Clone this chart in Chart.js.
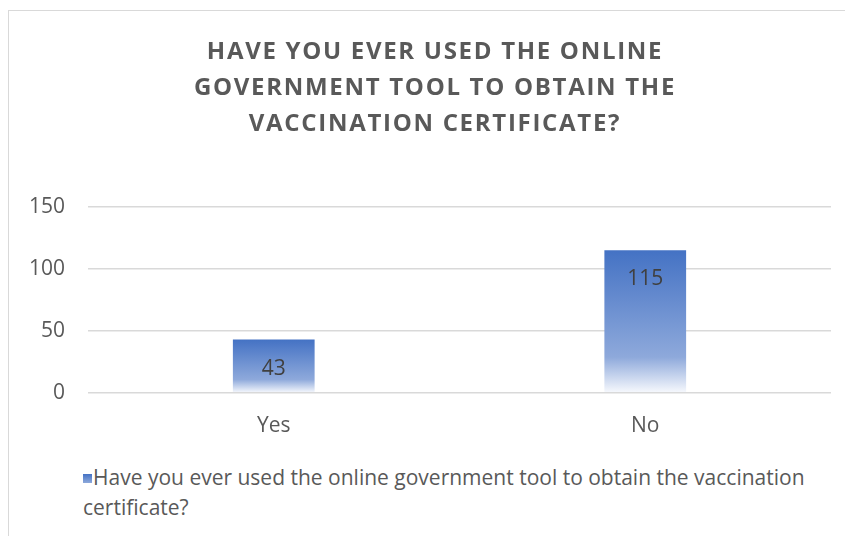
<!DOCTYPE html>
<html>
<head>
<meta charset="utf-8">
<script src="https://cdn.jsdelivr.net/npm/chart.js@4.4.0/dist/chart.umd.min.js"></script>
<style>
  body { margin: 0; background: #fff; width: 845px; height: 536px; overflow: hidden; position: relative; }
  #frame { position: absolute; left: 8px; top: 10px; width: 900px; height: 600px; border: 1px solid #d9d9d9; }
  #wrap { position: absolute; left: 8px; top: 10px; width: 837px; height: 450px; }
  #title { position: absolute; left: 0; top: 32px; width: 870px; text-align: center; font-family: "Open Sans", sans-serif;
           font-weight: bold; font-size: 24px; line-height: 36px; letter-spacing: 1.7px; color: #595959; }
  #legend { position: absolute; left: 83px; top: 462px; width: 730px; font-family: "Open Sans", sans-serif;
            font-size: 21px; line-height: 30px; color: #595959; }
  #legend .box { display: inline-block; width: 9px; height: 9px; margin-right: 1px; vertical-align: 2px;
                 background: linear-gradient(#4472C4, #8EA9DB); }
</style>
</head>
<body>
<div id="frame"></div>
<div id="wrap"><canvas id="voteChart"></canvas></div>
<div id="title"></div>
<div id="legend"></div>
<script>
const categories = ['Yes', 'No'];
const answers = [43, 115];
const seriesName = 'Have you ever used the online government tool to obtain the vaccination certificate?';
const titleLines = ['HAVE YOU EVER USED THE ONLINE', 'GOVERNMENT TOOL TO OBTAIN THE', 'VACCINATION CERTIFICATE?'];

const fontName = '"Open Sans", sans-serif';

document.getElementById('title').innerHTML = titleLines.join('<br>');
document.getElementById('legend').innerHTML = '<span class="box"></span>' + seriesName;

// value written inside the top of each bar
const barLabels = {
    id: 'barLabels',
    afterDatasetsDraw(chart) {
        let ctx = chart.ctx;
        let meta = chart.getDatasetMeta(0);
        ctx.save();
        ctx.font = '21px ' + fontName;
        ctx.fillStyle = '#404040';
        ctx.textAlign = 'center';
        ctx.textBaseline = 'middle';
        meta.data.forEach((bar, i) => {
            ctx.fillText(answers[i], bar.x, bar.y + 29);
        });
        ctx.restore();
    }
};

let ctx = document.getElementById('voteChart').getContext('2d');

let myChart = new Chart(ctx, {
    type: 'bar',
    data: {
        labels: categories,
        datasets: [{
            label: seriesName,
            data: answers,
            backgroundColor: '#4472C4',
            categoryPercentage: 1,
            barPercentage: 0.22
        }]
    },
    options: {
        responsive: true,
        maintainAspectRatio: false,
        animation: false,
        layout: { padding: { left: 0, right: 14, top: 197, bottom: 0 } },
        plugins: {
            legend: { display: false },
            tooltip: { enabled: false }
        },
        scales: {
            x: {
                grid: { display: false, drawTicks: false },
                border: { display: false },
                ticks: { color: '#595959', font: { family: fontName, size: 21 }, padding: 21 }
            },
            y: {
                min: 0,
                max: 150,
                afterFit(scale) { scale.width = 80; },
                ticks: { stepSize: 50, color: '#595959', font: { family: fontName, size: 21 }, padding: 23 },
                grid: { color: '#d9d9d9', lineWidth: 1.5, drawTicks: false },
                border: { display: false }
            }
        }
    },
    plugins: [barLabels]
});

// Excel style gradient fill, from the top of each bar down to its base
let yScale = myChart.scales.y;
let base = yScale.getPixelForValue(0);
myChart.data.datasets[0].backgroundColor = answers.map(v => {
    let top = yScale.getPixelForValue(v);
    let g = ctx.createLinearGradient(0, top, 0, base);
    g.addColorStop(0, '#4472C4');
    g.addColorStop(0.75, '#8EA9DB');
    g.addColorStop(1, '#F7F9FD');
    return g;
});
myChart.update('none');
</script>
</body>
</html>
